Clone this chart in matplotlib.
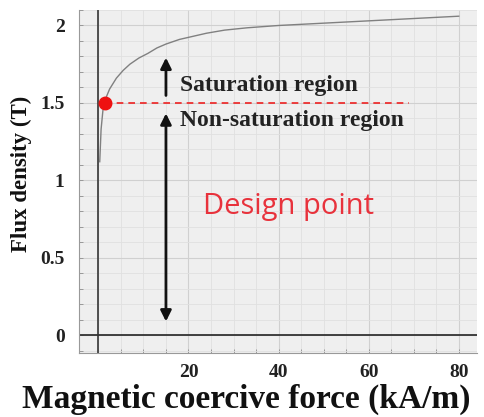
import matplotlib
matplotlib.use('Agg')
import matplotlib.pyplot as plt
from matplotlib.ticker import MultipleLocator

# B-H curve
coercive_force = [0.3, 0.6, 1.0, 1.5, 2.5, 4.0, 5.5, 7.0, 9.0, 11, 13, 15, 18, 21, 24, 28, 33, 40, 50, 60, 70, 80]
flux_density = [1.12, 1.33, 1.45, 1.52, 1.59, 1.66, 1.71, 1.75, 1.79, 1.82, 1.855, 1.88, 1.91, 1.93, 1.95, 1.97, 1.985, 2.00, 2.015, 2.03, 2.045, 2.06]

design_H = 1.5
design_B = 1.5
dash_end = 69
arrow_x = 15

x_ticks = [20, 40, 60, 80]
x_tick_labels = ['20', '40', '60', '80']
y_ticks = [0, 0.5, 1, 1.5, 2]
y_tick_labels = ['0', '0.5', '1', '1.5', '2']

serif = 'Liberation Serif'

fig = plt.figure(figsize=(4.85, 4.17), dpi=100)
ax = fig.add_axes([0.162, 0.153, 0.821, 0.823])
ax.set_facecolor('#efefef')

ax.set_xlim(-4.4, 84)
ax.set_ylim(-0.117, 2.10)

# grid
ax.xaxis.set_minor_locator(MultipleLocator(5))
ax.yaxis.set_minor_locator(MultipleLocator(0.1))
ax.set_xticks([0] + x_ticks)
ax.set_xticklabels([''] + x_tick_labels, fontfamily=serif, fontweight='bold', fontsize=14)
ax.set_yticks(y_ticks)
ax.set_yticklabels(y_tick_labels, fontfamily=serif, fontweight='bold', fontsize=14)
ax.grid(which='major', color='#d0d0d0', lw=0.8)
ax.grid(which='minor', color='#e0e0e0', lw=0.6)
ax.set_axisbelow(True)

ax.tick_params(which='both', colors='#999999', labelcolor='#222222', direction='in', length=3, width=0.7)
ax.tick_params(axis='x', pad=8)
ax.tick_params(axis='y', pad=10)

for side in ['top', 'right']:
    ax.spines[side].set_visible(False)
for side in ['left', 'bottom']:
    ax.spines[side].set_color('#999999')
    ax.spines[side].set_linewidth(0.8)

# zero lines
ax.axvline(0, color='#444444', lw=1.3)
ax.axhline(0, color='#333333', lw=1.3)

# curve
ax.plot(coercive_force, flux_density, color='#808080', lw=1.0)

# design point
ax.plot([design_H, dash_end], [design_B, design_B], color='#ee2222', lw=1.2, ls=(0, (4, 3)))
ax.plot(design_H, design_B, 'o', color='#ee1111', ms=9)

# arrows
ax.annotate('', xy=(arrow_x, 1.81), xytext=(arrow_x, 1.53),
            arrowprops=dict(arrowstyle='-|>', color='#111111', lw=2.0, mutation_scale=16))
ax.annotate('', xy=(arrow_x, 1.45), xytext=(arrow_x, 0.07),
            arrowprops=dict(arrowstyle='<|-|>', color='#111111', lw=2.0, mutation_scale=16))

ax.text(18.2, 1.61, 'Saturation region', fontfamily=serif, fontweight='bold',
        fontsize=17, color='#222222', va='center')
ax.text(18.2, 1.385, 'Non-saturation region', fontfamily=serif, fontweight='bold',
        fontsize=17, color='#222222', va='center')
ax.text(23.3, 0.83, 'Design point', fontfamily='Open Sans', fontsize=21,
        color='#e8323c', va='center')

fig.text(0.508, 0.042, 'Magnetic coercive force (kA/m)', fontfamily=serif, fontweight='bold',
         fontsize=24, ha='center', va='center', color='#111111')
fig.text(0.045, 0.583, 'Flux density (T)', fontfamily=serif, fontweight='bold',
         fontsize=16.5, rotation=90, ha='center', va='center', color='#111111')

fig.savefig('out.png', dpi=100)
